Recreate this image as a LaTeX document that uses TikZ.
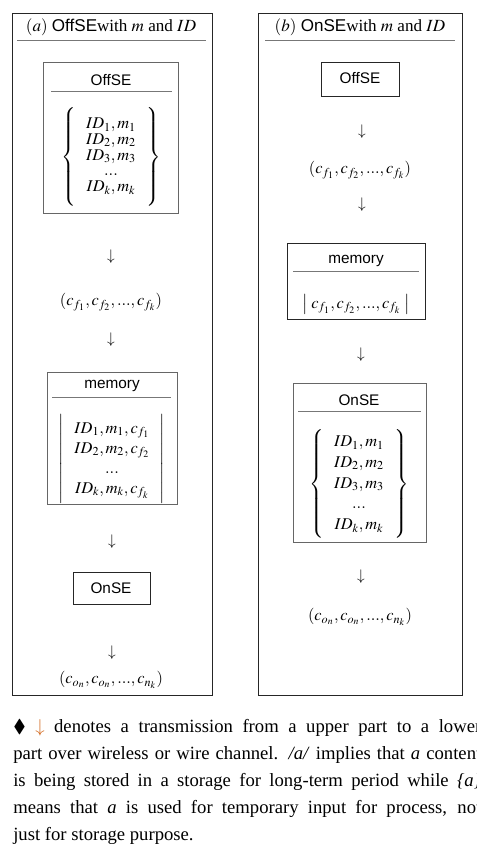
\documentclass[tikz,border=0pt]{standalone}
\usepackage{mathptmx}
\usepackage{amssymb}
\usepackage[no-math]{fontspec}
\setmainfont{Liberation Serif}
\newfontfamily\lblfont{Liberation Sans}
\usepackage{xcolor}
\definecolor{arrowc}{HTML}{D2691E}
\definecolor{rulec}{HTML}{777777}

\begin{document}
\begin{tikzpicture}[x=0.75pt, y=-0.75pt,
    box/.style={draw=black!85, line width=0.6pt},
    hr/.style={draw=rulec, line width=0.6pt},
    lbl/.style={font=\lblfont\fontsize{11.5}{13}\selectfont, inner sep=1pt},
    mth/.style={font=\fontsize{12.3}{12}\selectfont, inner sep=1pt},
    ttl/.style={font=\fontsize{12.8}{14}\selectfont, inner sep=1pt},
    dn/.style={font=\fontsize{11.5}{13}\selectfont, inner sep=0pt},
    note/.style={font=\fontsize{14}{20.25}\selectfont, inner sep=0pt,
                 text width=351pt, align=justify, anchor=north west}]
\useasboundingbox (0,0) rectangle (476,858);
\newcommand{\bigbrace}[2]{\rule[-#1]{0pt}{#2}}

% (a) OffSE with m and ID
\draw[box] (12,13) rectangle (212,695);
\node[ttl] (ta) at (111,27) {$(a)$ {\lblfont OffSE}with $m$ and $ID$};
\draw[hr] (17,40) -- (206,40);
\draw[box, draw=black!60] (43,62) rectangle (178,213);
\node[lbl] (offa) at (111,80) {OffSE};
\draw[hr] (51,91) -- (172,91);
\node[mth] (ida) at (111,157) {\renewcommand{\arraystretch}{0.98}$\left\{\;\bigbrace{34pt}{72pt}\begin{array}{c}ID_1,m_1\\ ID_2,m_2\\ ID_3,m_3\\ ...\\ ID_k,m_k\end{array}\;\right\}$};
\node[dn] (a1) at (111,257) {$\downarrow$};
\node[mth] (cfa) at (111,302) {$(c_{f_1},c_{f_2},...,c_{f_k})$};
\node[dn] (a2) at (111,340) {$\downarrow$};
\draw[box, draw=black!60] (47,372) rectangle (177,504);
\node[lbl] (mema) at (112,386) {memory};
\draw[hr] (52,397) -- (171,397);
\node[mth] (sta) at (112,459) {\renewcommand{\arraystretch}{1.25}$\left|\;\bigbrace{29pt}{62pt}\begin{array}{c}ID_1,m_1,c_{f_1}\\ ID_2,m_2,c_{f_2}\\ ...\\ ID_k,m_k,c_{f_k}\end{array}\;\right|$};
\node[dn] (a3) at (112,542) {$\downarrow$};
\draw[box] (73,572) rectangle (150,604);
\node[lbl] (ona) at (111,588) {OnSE};
\node[dn] (a4) at (112,653) {$\downarrow$};
\node[mth] (coa) at (111,680) {$(c_{o_n},c_{o_n},...,c_{n_k})$};

% (b) OnSE with m and ID
\draw[box] (258,13) rectangle (462,695);
\node[ttl] (tb) at (360,27) {$(b)$ {\lblfont OnSE}with $m$ and $ID$};
\draw[hr] (265,40) -- (455,40);
\draw[box] (321,62) rectangle (399,96);
\node[lbl] (offb) at (360,78) {OffSE};
\node[dn] (b1) at (362,132) {$\downarrow$};
\node[mth] (cfb) at (360,170) {$(c_{f_1},c_{f_2},...,c_{f_k})$};
\node[dn] (b2) at (362,205) {$\downarrow$};
\draw[box] (287,243) rectangle (425,319);
\node[lbl] (memb) at (356,261) {memory};
\draw[hr] (293,271) -- (419,271);
\node[mth] (stb) at (356,304) {$\left|\;c_{f_1},c_{f_2},...,c_{f_k}\;\right|$};
\node[dn] (b3) at (361,355) {$\downarrow$};
\draw[box, draw=black!60] (293,383) rectangle (426,542);
\node[lbl] (onb) at (359,400) {OnSE};
\draw[hr] (298,411) -- (421,411);
\node[mth] (idb) at (359,485) {\renewcommand{\arraystretch}{1.3}$\left\{\;\bigbrace{39pt}{82pt}\begin{array}{c}ID_1,m_1\\ ID_2,m_2\\ ID_3,m_3\\ ...\\ ID_k,m_k\end{array}\;\right\}$};
\node[dn] (b4) at (361,577) {$\downarrow$};
\node[mth] (cob) at (360,617) {$(c_{o_n},c_{o_n},...,c_{n_k})$};

% footnote
\node[note] (fn) at (13,719) {$\blacklozenge$ \textcolor{arrowc}{$\downarrow$} denotes a transmission from a upper part to a lower\linebreak part over wireless or wire channel. \textit{/a/} implies that \textit{a} content\linebreak is being stored in a storage for long-term period while \textit{\{a\}}\linebreak means that \textit{a} is used for temporary input for process, not\linebreak just for storage purpose.};
\end{tikzpicture}
\end{document}
